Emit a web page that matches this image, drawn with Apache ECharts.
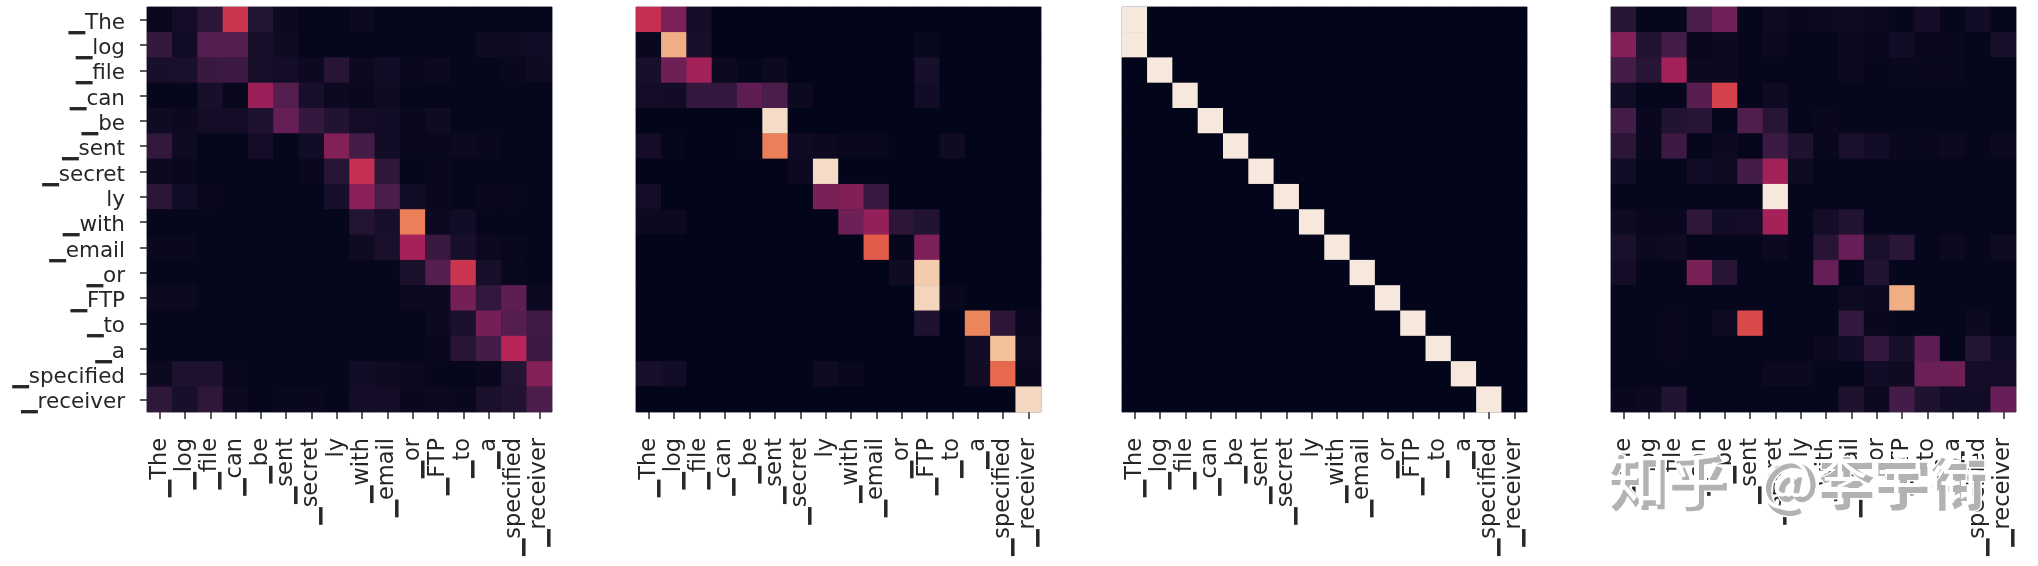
<!DOCTYPE html>
<html><head><meta charset="utf-8">
<style>html,body{margin:0;padding:0;background:#fff}#c{width:2038px;height:566px}</style>
<script src="https://cdn.jsdelivr.net/npm/echarts@6/dist/echarts.min.js"></script>
</head><body><div id="c"></div>
<script>
const tokens = ['▁The','▁log','▁file','▁can','▁be','▁sent','▁secret','ly','▁with','▁email','▁or','▁FTP','▁to','▁a','▁specified','▁receiver'];
const panelA = [
[.02,.06,.13,.58,.11,.03,.01,.01,.03,.01,.01,.01,.01,.01,.01,.01],
[.16,.05,.25,.25,.07,.04,.01,.01,.01,.01,.01,.01,.01,.04,.04,.05],
[.07,.08,.17,.18,.07,.06,.03,.12,.03,.05,.02,.03,.01,.01,.02,.04],
[.01,.01,.07,.02,.44,.25,.07,.03,.02,.04,.01,.01,.01,.01,.01,.01],
[.04,.03,.06,.06,.09,.30,.16,.10,.06,.05,.02,.04,.01,.01,.01,.01],
[.15,.04,.01,.01,.06,.01,.05,.38,.20,.05,.02,.02,.03,.02,.01,.01],
[.03,.02,.01,.01,.01,.01,.02,.12,.56,.14,.01,.02,.01,.01,.01,.01],
[.13,.05,.02,.01,.01,.01,.01,.07,.40,.22,.05,.02,.01,.02,.02,.01],
[.01,.01,.01,.01,.01,.01,.01,.01,.11,.07,.76,.03,.05,.01,.01,.01],
[.02,.02,.01,.01,.01,.01,.01,.01,.04,.08,.47,.17,.07,.03,.02,.01],
[.01,.01,.01,.01,.01,.01,.01,.01,.01,.01,.08,.25,.58,.07,.02,.01],
[.03,.03,.01,.01,.01,.01,.01,.01,.01,.01,.03,.03,.34,.15,.28,.03],
[.01,.01,.01,.01,.01,.01,.01,.01,.01,.01,.01,.03,.08,.34,.25,.19],
[.01,.01,.01,.01,.01,.01,.01,.01,.01,.01,.01,.02,.12,.20,.52,.18],
[.03,.09,.09,.02,.01,.01,.01,.01,.05,.04,.03,.01,.01,.02,.11,.38],
[.14,.07,.14,.03,.01,.02,.02,.01,.06,.06,.02,.03,.02,.08,.10,.22]];
const panelB = [
[.56,.36,.06,0,0,0,0,0,0,0,0,0,0,0,0,0],
[.02,.86,.07,0,0,0,0,0,0,0,0,.02,0,0,0,0],
[.07,.32,.46,.03,.01,.03,0,0,0,0,0,.07,0,0,0,0],
[.06,.05,.16,.15,.28,.22,.03,0,0,0,0,.05,0,0,0,0],
[0,0,0,0,0,.97,0,0,0,0,0,0,0,0,0,0],
[.06,.01,0,0,.01,.76,.04,.03,.02,.02,0,0,.04,0,0,0],
[0,0,0,0,0,0,.03,.97,0,0,0,0,0,0,0,0],
[.06,0,0,0,0,0,0,.35,.37,.17,0,0,0,0,0,0],
[.03,.03,0,0,0,0,0,0,.32,.42,.13,.10,0,0,0,0],
[0,0,0,0,0,0,0,0,0,.68,.01,.36,0,0,0,0],
[0,0,0,0,0,0,0,0,0,0,.04,.93,0,0,0,0],
[0,0,0,0,0,0,0,0,0,0,0,.95,.02,0,0,0],
[0,0,0,0,0,0,0,0,0,0,0,.09,0,.77,.13,.02],
[0,0,0,0,0,0,0,0,0,0,0,0,0,.05,.90,.04],
[.07,.05,0,0,0,0,0,.04,.02,0,0,0,0,.05,.71,.02],
[0,0,0,0,0,0,0,0,0,0,0,0,0,0,0,.96]];
const panelC = [
[1,0,0,0,0,0,0,0,0,0,0,0,0,0,0,0],
[1,0,0,0,0,0,0,0,0,0,0,0,0,0,0,0],
[0,1,0,0,0,0,0,0,0,0,0,0,0,0,0,0],
[0,0,1,0,0,0,0,0,0,0,0,0,0,0,0,0],
[0,0,0,1,0,0,0,0,0,0,0,0,0,0,0,0],
[0,0,0,0,1,0,0,0,0,0,0,0,0,0,0,0],
[0,0,0,0,0,1,0,0,0,0,0,0,0,0,0,0],
[0,0,0,0,0,0,1,0,0,0,0,0,0,0,0,0],
[0,0,0,0,0,0,0,1,0,0,0,0,0,0,0,0],
[0,0,0,0,0,0,0,0,1,0,0,0,0,0,0,0],
[0,0,0,0,0,0,0,0,0,1,0,0,0,0,0,0],
[0,0,0,0,0,0,0,0,0,0,1,0,0,0,0,0],
[0,0,0,0,0,0,0,0,0,0,0,1,0,0,0,0],
[0,0,0,0,0,0,0,0,0,0,0,0,1,0,0,0],
[0,0,0,0,0,0,0,0,0,0,0,0,0,1,0,0],
[0,0,0,0,0,0,0,0,0,0,0,0,0,0,1,0]];
const panelD = [
[.12,.01,.01,.22,.33,.01,.04,.02,.03,.04,.03,.01,.06,.01,.05,.01],
[.38,.10,.20,.02,.03,.01,.03,.01,.01,.03,.02,.05,.02,.02,.01,.07],
[.20,.12,.46,.03,.03,.01,.01,.01,.01,.03,.01,.02,.02,.02,.01,.01],
[.05,.01,.01,.26,.62,.01,.04,.01,.01,.01,.01,.01,.01,.01,.01,.01],
[.20,.02,.10,.12,.01,.24,.12,.01,.02,.01,.01,.01,.01,.01,.01,.01],
[.13,.02,.18,.01,.03,.01,.18,.09,.02,.08,.05,.02,.02,.03,.01,.03],
[.05,.01,.01,.05,.04,.20,.46,.04,.01,.01,.01,.01,.01,.01,.01,.01],
[.01,.01,.01,.01,.01,.01,1,.01,.01,.01,.01,.01,.01,.01,.01,.01],
[.04,.02,.02,.14,.05,.06,.47,.01,.06,.10,.01,.01,.01,.01,.01,.01],
[.08,.03,.04,.01,.01,.01,.03,.01,.12,.30,.08,.13,.01,.03,.01,.04],
[.06,.01,.01,.35,.12,.01,.01,.01,.30,.01,.10,.01,.01,.01,.01,.01],
[.01,.01,.01,.01,.01,.01,.01,.01,.01,.04,.03,.86,.01,.01,.01,.01],
[.01,.01,.02,.01,.04,.64,.01,.01,.01,.16,.02,.01,.01,.01,.03,.01],
[.01,.01,.02,.01,.01,.01,.01,.01,.03,.05,.16,.07,.28,.01,.11,.05],
[.01,.01,.01,.01,.01,.01,.03,.03,.01,.01,.05,.04,.31,.32,.06,.06],
[.02,.03,.10,.01,.01,.01,.01,.01,.01,.09,.03,.20,.09,.05,.05,.30]];
const panels = [panelA, panelB, panelC, panelD];
const rocket = ['#03051a','#211331','#431c47','#661f56','#8c2058','#b1215a','#d23a4c','#e7634a','#ee9264','#f2c09a','#f6e8dc'];
const lefts = [147, 636, 1122, 1611];
const side = 405, top0 = 7, ink = '#262626', font = 'DejaVu Sans';
const mark = (text,left,top,size)=>[
  {type:'text', left:left+2, top:top+3, z:100, silent:true, style:{text, fontFamily:'Noto Sans CJK SC', fontSize:size, fontWeight:700, fill:'#b2b2b2', stroke:'#ffffff', lineWidth:3}},
  {type:'text', left, top, z:101, silent:true, style:{text, fontFamily:'Noto Sans CJK SC', fontSize:size, fontWeight:400, fill:'#ffffff'}}
];

const chart = echarts.init(document.getElementById('c'), null, {renderer:'canvas'});
chart.setOption({
  animation:false,
  backgroundColor:'#fff',
  grid: lefts.map(l=>({left:l, top:top0, width:side, height:side, show:true, backgroundColor:'#03051a', borderColor:'#8d8d9c', borderWidth:1})),
  xAxis: lefts.map((_,i)=>({type:'category', gridIndex:i, data:tokens, position:'bottom',
    axisLine:{show:false},
    axisTick:{show:true, alignWithLabel:true, length:7, lineStyle:{color:ink, width:1.5}},
    axisLabel:{interval:0, rotate:90, margin:26, fontFamily:font, fontSize:22.5, color:ink},
    splitLine:{show:false}})),
  yAxis: lefts.map((_,i)=>({type:'category', gridIndex:i, data:tokens, inverse:true, show:i===0,
    axisLine:{show:false},
    axisTick:{show:true, alignWithLabel:true, length:7, lineStyle:{color:ink, width:1.5}},
    axisLabel:{interval:0, margin:22, fontFamily:font, fontSize:21.5, color:ink, verticalAlign:'top', lineHeight:7},
    splitLine:{show:false}})),
  visualMap:{show:false, type:'continuous', min:0, max:1, inRange:{color:rocket}},
  series: panels.map((m,i)=>({type:'heatmap', xAxisIndex:i, yAxisIndex:i, progressive:0, silent:true,
    data:m.flatMap((row,r)=>row.map((v,c)=>[c,r,v])), itemStyle:{borderWidth:0}})),
  graphic:[...mark('知乎',1606,449,60), ...mark('@李宇衔',1759,451,56)]
});
</script></body></html>
